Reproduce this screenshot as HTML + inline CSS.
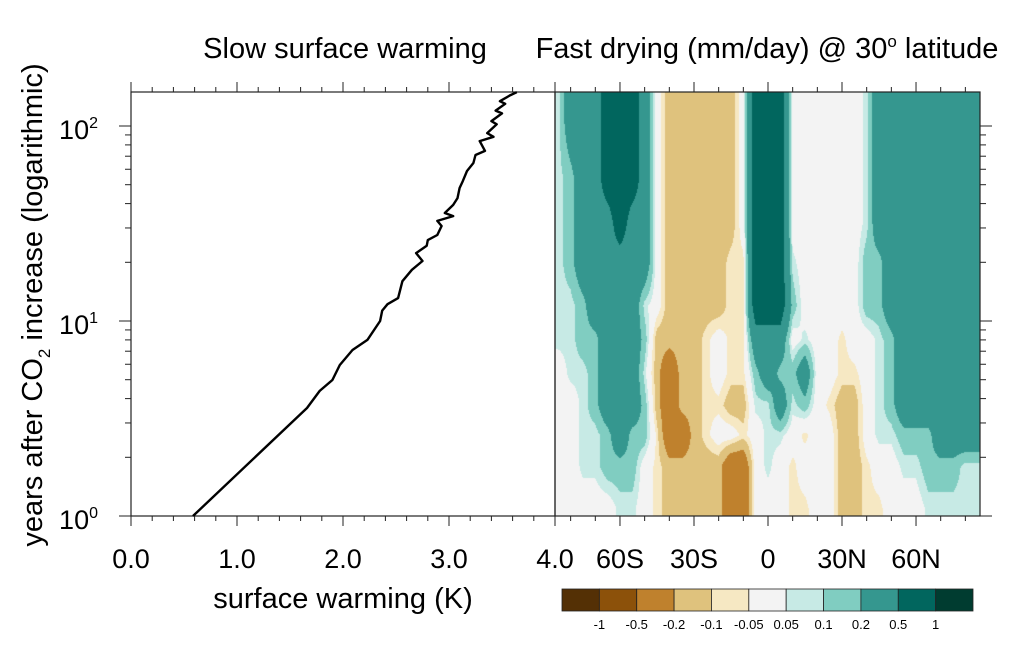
<!DOCTYPE html>
<html><head><meta charset="utf-8"><style>
body{margin:0;background:#fff;width:1019px;height:663px;overflow:hidden;font-family:"Liberation Sans",Arial,sans-serif}
#wrap{position:relative;width:1019px;height:663px}
canvas{position:absolute;left:555px;top:92px}
svg{position:absolute;left:0;top:0}
</style></head><body>
<div id="wrap">
<canvas id="hm" width="425" height="424"></canvas>
<svg id="s" width="1019" height="663"></svg>
</div>
<script>
// ---- data: left panel (surface warming vs years) ----
const warmK=[0.585,1.66,1.78,1.90,1.97,2.09,2.23,2.35,2.37,2.42,2.52,2.56,2.65,2.75,2.69,2.79,2.80,2.89,2.93,2.89,3.04,2.96,3.04,3.08,3.10,3.13,3.17,3.23,3.25,3.34,3.29,3.42,3.36,3.45,3.40,3.50,3.44,3.53,3.48,3.58,3.64];
const warmYears=[1.0,3.58,4.38,4.98,5.95,7.10,8.0,10.0,11.3,12.2,13.1,16.0,18.3,20.3,22.3,24.3,26.0,27.6,30.7,32.6,34.5,35.8,39.4,42.7,48.1,52.2,58.8,64.6,71.0,74.5,83.7,88,92,102,106,116,120,130,134,144,149];
const xTicks=["0.0","1.0","2.0","3.0","4.0"];
const latTicks=[-60,-30,0,30,60];
const latTickLabels=["60S","30S","0","30N","60N"];
// ---- data: right panel (drying, mm/day) ----
const lats=[-85,-80,-75,-70,-65,-60,-55,-50,-45,-40,-35,-30,-25,-20,-15,-10,-5,0,5,10,15,20,25,30,35,40,45,50,55,60,65,70,75,80,85];
const rowYears=[1.1,1.8,2.6,3.7,5.4,8,12,20,32,55,110];
const dry0=[0,0,0,0,0,0.07,0.07,0,-0.07,-0.15,-0.15,-0.15,-0.15,-0.15,-0.35,-0.35,0,0,0,-0.07,-0.07,0,0,-0.15,-0.15,-0.07,-0.07,0,0,0,0.07,0.07,0.07,0.07,0.07];
const dry1=[0,0,0.07,0.07,0.15,0.15,0.15,0,-0.07,-0.15,-0.15,-0.15,-0.15,-0.15,-0.35,-0.35,0,0.07,0,-0.07,0,0,0,-0.15,-0.15,-0.07,0,0,0.07,0.07,0.15,0.15,0.15,0.07,0.07];
const dry2=[0,0,0.07,0.07,0.15,0.35,0.15,0.15,-0.07,-0.35,-0.35,-0.15,-0.07,0,0,-0.07,0,0.07,0.07,0,-0.07,0,0,-0.15,-0.15,0,0.07,0.07,0.15,0.15,0.15,0.35,0.35,0.35,0.35];
const dry3=[0,0,0.07,0.15,0.35,0.35,0.35,0.15,-0.15,-0.35,-0.15,-0.15,-0.07,-0.07,-0.15,-0.15,0.07,0.07,0.35,0.07,0.15,0,-0.07,-0.15,-0.15,0,0.07,0.15,0.35,0.35,0.35,0.35,0.35,0.35,0.35];
const dry4=[0,0.07,0.07,0.15,0.35,0.35,0.35,0.07,-0.15,-0.35,-0.15,-0.15,-0.07,0,-0.07,-0.07,0.15,0.35,0.15,0.15,0.35,0,0,-0.07,-0.07,0,0.07,0.15,0.35,0.35,0.35,0.35,0.35,0.35,0.35];
const dry5=[0.07,0.07,0.15,0.15,0.35,0.35,0.35,0.15,-0.15,-0.15,-0.15,-0.15,-0.07,0,-0.07,-0.07,0.35,0.35,0.35,0,0.07,0,0,-0.07,0,0,0.07,0.15,0.35,0.35,0.35,0.35,0.35,0.35,0.35];
const dry6=[0.07,0.07,0.15,0.35,0.35,0.35,0.35,0.07,0,-0.15,-0.15,-0.15,-0.15,-0.15,-0.07,-0.07,0.7,0.7,0.7,0.15,0,0,0,0,0,0.15,0.15,0.35,0.35,0.35,0.35,0.35,0.35,0.35,0.35];
const dry7=[0.07,0.15,0.35,0.35,0.35,0.35,0.35,0.35,0,-0.15,-0.15,-0.15,-0.15,-0.15,-0.07,-0.07,0.7,0.7,0.7,0.07,0,0,0,0,0,0.15,0.15,0.35,0.35,0.35,0.35,0.35,0.35,0.35,0.35];
const dry8=[0.07,0.15,0.35,0.35,0.35,0.7,0.35,0.35,0,-0.15,-0.15,-0.15,-0.15,-0.15,-0.15,0,0.7,0.7,0.7,0,0,0,0,0,0,0.07,0.35,0.35,0.35,0.35,0.35,0.35,0.35,0.35,0.35];
const dry9=[0.07,0.15,0.35,0.35,0.7,0.7,0.7,0.35,0,-0.15,-0.15,-0.15,-0.15,-0.15,-0.15,0,0.7,0.7,0.7,0,0,0,0,0,0,0.07,0.35,0.35,0.35,0.35,0.35,0.35,0.35,0.35,0.35];
const dry10=[0.07,0.35,0.35,0.35,0.7,0.7,0.7,0.35,0,-0.15,-0.15,-0.15,-0.15,-0.15,-0.15,0,0.7,0.7,0.7,0,0,0,0,0,0,0.07,0.35,0.35,0.35,0.35,0.35,0.35,0.35,0.35,0.35];
const dryRows=[dry0,dry1,dry2,dry3,dry4,dry5,dry6,dry7,dry8,dry9,dry10];
const levels=[-1,-0.5,-0.2,-0.1,-0.05,0.05,0.1,0.2,0.5,1];
const levelLabels=["-1","-0.5","-0.2","-0.1","-0.05","0.05","0.1","0.2","0.5","1"];
const colors=["#543005","#8c510a","#bf812d","#dfc27d","#f6e8c3","#f3f3f3","#c7eae5","#80cdc1","#35978f","#01665e","#003c30"];

// ---- axes ----
const TOP=92,BOT=516,L1=131,R1=555,R2=980;
const yOf=t=>BOT-195*Math.log10(t);
const xK=k=>L1+106*k;
const xLat=la=>768+2.467*la;
const NS="http://www.w3.org/2000/svg";
const svg=document.getElementById('s');
function mk(tag,attrs,parent){const e=document.createElementNS(NS,tag);for(const k in attrs)e.setAttribute(k,attrs[k]);(parent||svg).appendChild(e);return e;}
function txt(x,y,s,size,anchor){const t=mk('text',{x:x,y:y,'font-size':size,'text-anchor':anchor||'middle','font-family':'"Liberation Sans",Arial,sans-serif',fill:'#000'});t.textContent=s;return t;}

// heatmap
(function(){
  const cv=document.getElementById('hm');const ctx=cv.getContext('2d');
  const W=cv.width,H=cv.height;const img=ctx.createImageData(W,H);
  const rgb=colors.map(c=>[parseInt(c.substr(1,2),16),parseInt(c.substr(3,2),16),parseInt(c.substr(5,2),16)]);
  const lr=rowYears.map(t=>Math.log10(t));
  function idx(arr,v){if(v<=arr[0])return[0,0,0];if(v>=arr[arr.length-1])return[arr.length-1,arr.length-1,0];let i=0;while(arr[i+1]<v)i++;return[i,i+1,(v-arr[i])/(arr[i+1]-arr[i])];}
  for(let py=0;py<H;py++){
    const lt=(BOT-(TOP+py+0.5))/195;const[r0,r1,fr]=idx(lr,lt);
    for(let px=0;px<W;px++){
      const la=(R1+px+0.5-768)/2.467;const[c0,c1,fc]=idx(lats,la);
      const g=(r,c)=>{const row=dryRows[r]||[];const v=row[c];return v===undefined?0:v;};
      const v=(1-fr)*((1-fc)*g(r0,c0)+fc*g(r0,c1))+fr*((1-fc)*g(r1,c0)+fc*g(r1,c1));
      let k=0;while(k<levels.length&&v>levels[k])k++;
      const o=(py*W+px)*4;img.data[o]=rgb[k][0];img.data[o+1]=rgb[k][1];img.data[o+2]=rgb[k][2];img.data[o+3]=255;
    }
  }
  ctx.putImageData(img,0,0);
})();

// frames
const f1=mk('rect',{x:L1,y:TOP,width:R1-L1,height:BOT-TOP,fill:'none',stroke:'#222','stroke-width':1.2});

const f2=mk('rect',{x:R1,y:TOP,width:R2-R1,height:BOT-TOP,fill:'none',stroke:'#222','stroke-width':1.2});


// x ticks left panel
for(let i=0;i<=20;i++){const x=xK(i*0.2);const maj=i%5===0;
  mk('line',{x1:x,x2:x,y1:BOT,y2:BOT+(maj?10:5),stroke:'#222','stroke-width':1});
  mk('line',{x1:x,x2:x,y1:TOP,y2:TOP-(maj?10:5),stroke:'#222','stroke-width':1});}
xTicks.forEach((s,i)=>{const t=txt(xK(i),568,s,27);});
// lat ticks
for(let la=-80;la<=80;la+=10){const x=xLat(la);const maj=la%30===0;
  mk('line',{x1:x,x2:x,y1:BOT,y2:BOT+(maj?10:5),stroke:'#222','stroke-width':1});
  mk('line',{x1:x,x2:x,y1:TOP,y2:TOP-(maj?10:5),stroke:'#222','stroke-width':1});}
latTicks.forEach((la,i)=>{const t=txt(xLat(la),568,latTickLabels[i],27);});
// y ticks (log)
for(let d=0;d<=2;d++){for(let m=1;m<=9;m++){const v=m*Math.pow(10,d);if(v>150)continue;const y=yOf(v);const maj=m===1;
  mk('line',{x1:L1,x2:L1-(maj?12:6),y1:y,y2:y,stroke:'#222','stroke-width':1});
  mk('line',{x1:R2,x2:R2+(maj?12:6),y1:y,y2:y,stroke:'#222','stroke-width':1});}}
[0,1,2].forEach(d=>{const t=txt(98,yOf(Math.pow(10,d))+13,'10',27,'end');
  const sp=mk('tspan',{dy:-11,'font-size':16},t);sp.textContent=String(d);
  });

// warming line
const pts=warmK.map((k,i)=>xK(k).toFixed(1)+','+yOf(warmYears[i]).toFixed(1)).join(' ');
const ln=mk('polyline',{points:pts,fill:'none',stroke:'#000','stroke-width':2.4,'stroke-linejoin':'round'});


// titles
let t=txt(345,58,'Slow surface warming',29);
t=txt(767,58,'Fast drying (mm/day) @ 30',29);const sp=mk('tspan',{dy:-11,'font-size':17},t);sp.textContent='o';
const sp2=mk('tspan',{dy:11},t);sp2.textContent=' latitude';

t=txt(343,608,'surface warming (K)',29);
t=mk('text',{x:0,y:0,'font-size':29,'text-anchor':'middle','font-family':'"Liberation Sans",Arial,sans-serif',transform:'translate(42,305) rotate(-90)'});
t.textContent='years after CO';const s2=mk('tspan',{dy:8,'font-size':17},t);s2.textContent='2';const s3=mk('tspan',{dy:-8},t);s3.textContent=' increase (logarithmic)';


// colorbar
const cbX=562,cbW=411/colors.length;
colors.forEach((c,i)=>{const r=mk('rect',{x:cbX+i*cbW,y:589,width:cbW,height:22,fill:c,stroke:'#222','stroke-width':0.8});
  });
levelLabels.forEach((s,i)=>{const l=txt(cbX+(i+1)*cbW,629,s,13);});
</script>
</body></html>
